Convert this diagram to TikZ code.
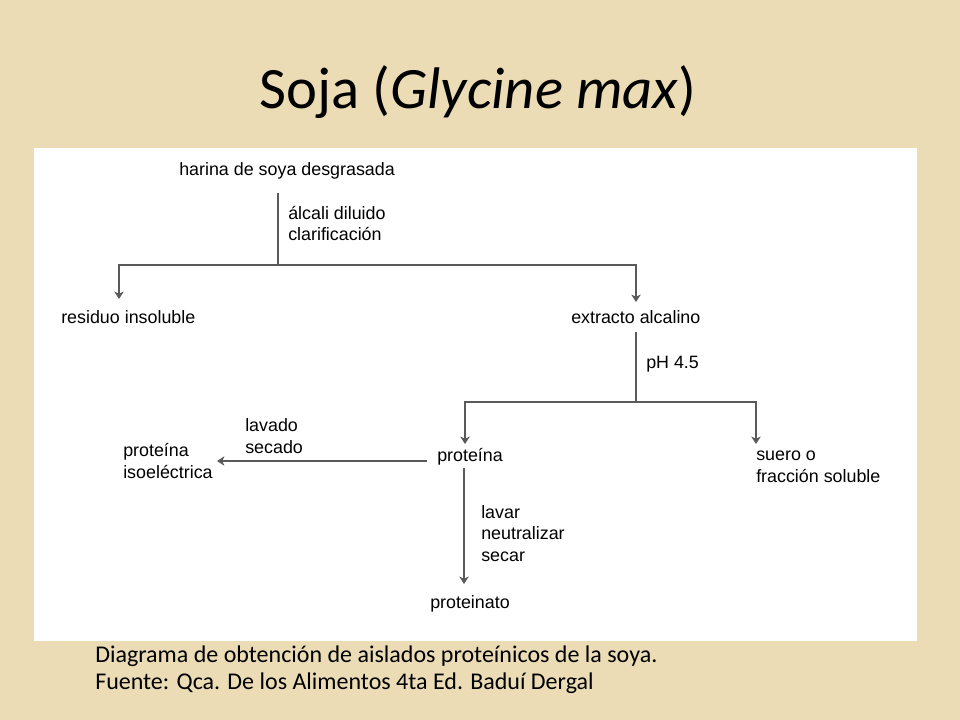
\documentclass[tikz,border=0pt]{standalone}
\usepackage{fontspec}
\setmainfont{Liberation Sans}
\newfontfamily\titlefont{Carlito}
\usetikzlibrary{arrows.meta,positioning,calc}

\definecolor{parchment}{HTML}{EBDCB6}
\definecolor{flowgray}{HTML}{5A5A5A}

\tikzset{
    txt/.style={anchor=base west, inner sep=0pt, align=left,
        font=\fontsize{13.4}{15.8}\selectfont},
    link/.style={draw=flowgray, line width=0.9pt},
    flow/.style={link, -{Stealth[length=5.5pt,width=7pt,inset=1.5pt]}},
}

\begin{document}
\begin{tikzpicture}[x=0.75pt, y=-0.75pt]
\fill[parchment] (0,0) rectangle (960,720);
\fill[white] (34,148) rectangle (917,641);
\useasboundingbox (0,0) rectangle (960,720);

\node[anchor=base, inner sep=0pt, font=\titlefont\fontsize{44}{52}\selectfont] (title) at (478,109) {Soja (\textit{Glycine max})};

% multi-line nodes sit on their last line
\node[txt] (harina) at (179,176) {harina de soya desgrasada};
\node[txt] (alcali) at (288,241) {álcali diluido\\clarificación};
\node[txt] (residuo) at (61,324) {residuo insoluble};
\node[txt] (extracto) at (571,323) {extracto alcalino};
\node[txt] (ph) at (646,368) {pH 4.5};
\node[txt] (proteina) at (437,461) {proteína};
\node[txt] (suero) at (756,482) {suero o\\fracción soluble};
\node[txt] (isoel) at (123,478) {proteína\\isoeléctrica};
\node[txt] (lavado) at (245,453) {lavado\\secado};
\node[txt] (lavar) at (481,561) {lavar\\neutralizar\\secar};
\node[txt] (proteinato) at (430,608) {proteinato};

\node[anchor=base west, inner sep=0pt, align=left, font=\titlefont\fontsize{18}{20}\selectfont] (caption) at (95,689)
    {Diagrama de obtención de aislados proteínicos de la soya.\\Fuente: Qca. De los Alimentos 4ta Ed. Baduí Dergal};

% branch points
\coordinate (fromharina) at (278,193);
\coordinate (split1) at (278,265);
\coordinate (toresiduo) at (119,299);
\coordinate (toextracto) at (636,302);
\coordinate (fromextracto) at (636,332);
\coordinate (split2) at (636,402);
\coordinate (toproteina) at (465,444);
\coordinate (tosuero) at (756,444);
\coordinate (fromproteina) at (427,461);
\coordinate (toisoel) at (217,461);
\coordinate (downproteina) at (464,468);
\coordinate (toproteinato) at (464,584);

\draw[link] (fromharina) -- (split1);
\draw[flow] (split1) -| (toresiduo);
\draw[flow] (split1) -| (toextracto);

\draw[link] (fromextracto) -- (split2);
\draw[flow] (split2) -| (toproteina);
\draw[flow] (split2) -| (tosuero);

\draw[flow] (fromproteina) -- (toisoel);
\draw[flow] (downproteina) -- (toproteinato);
\end{tikzpicture}
\end{document}
